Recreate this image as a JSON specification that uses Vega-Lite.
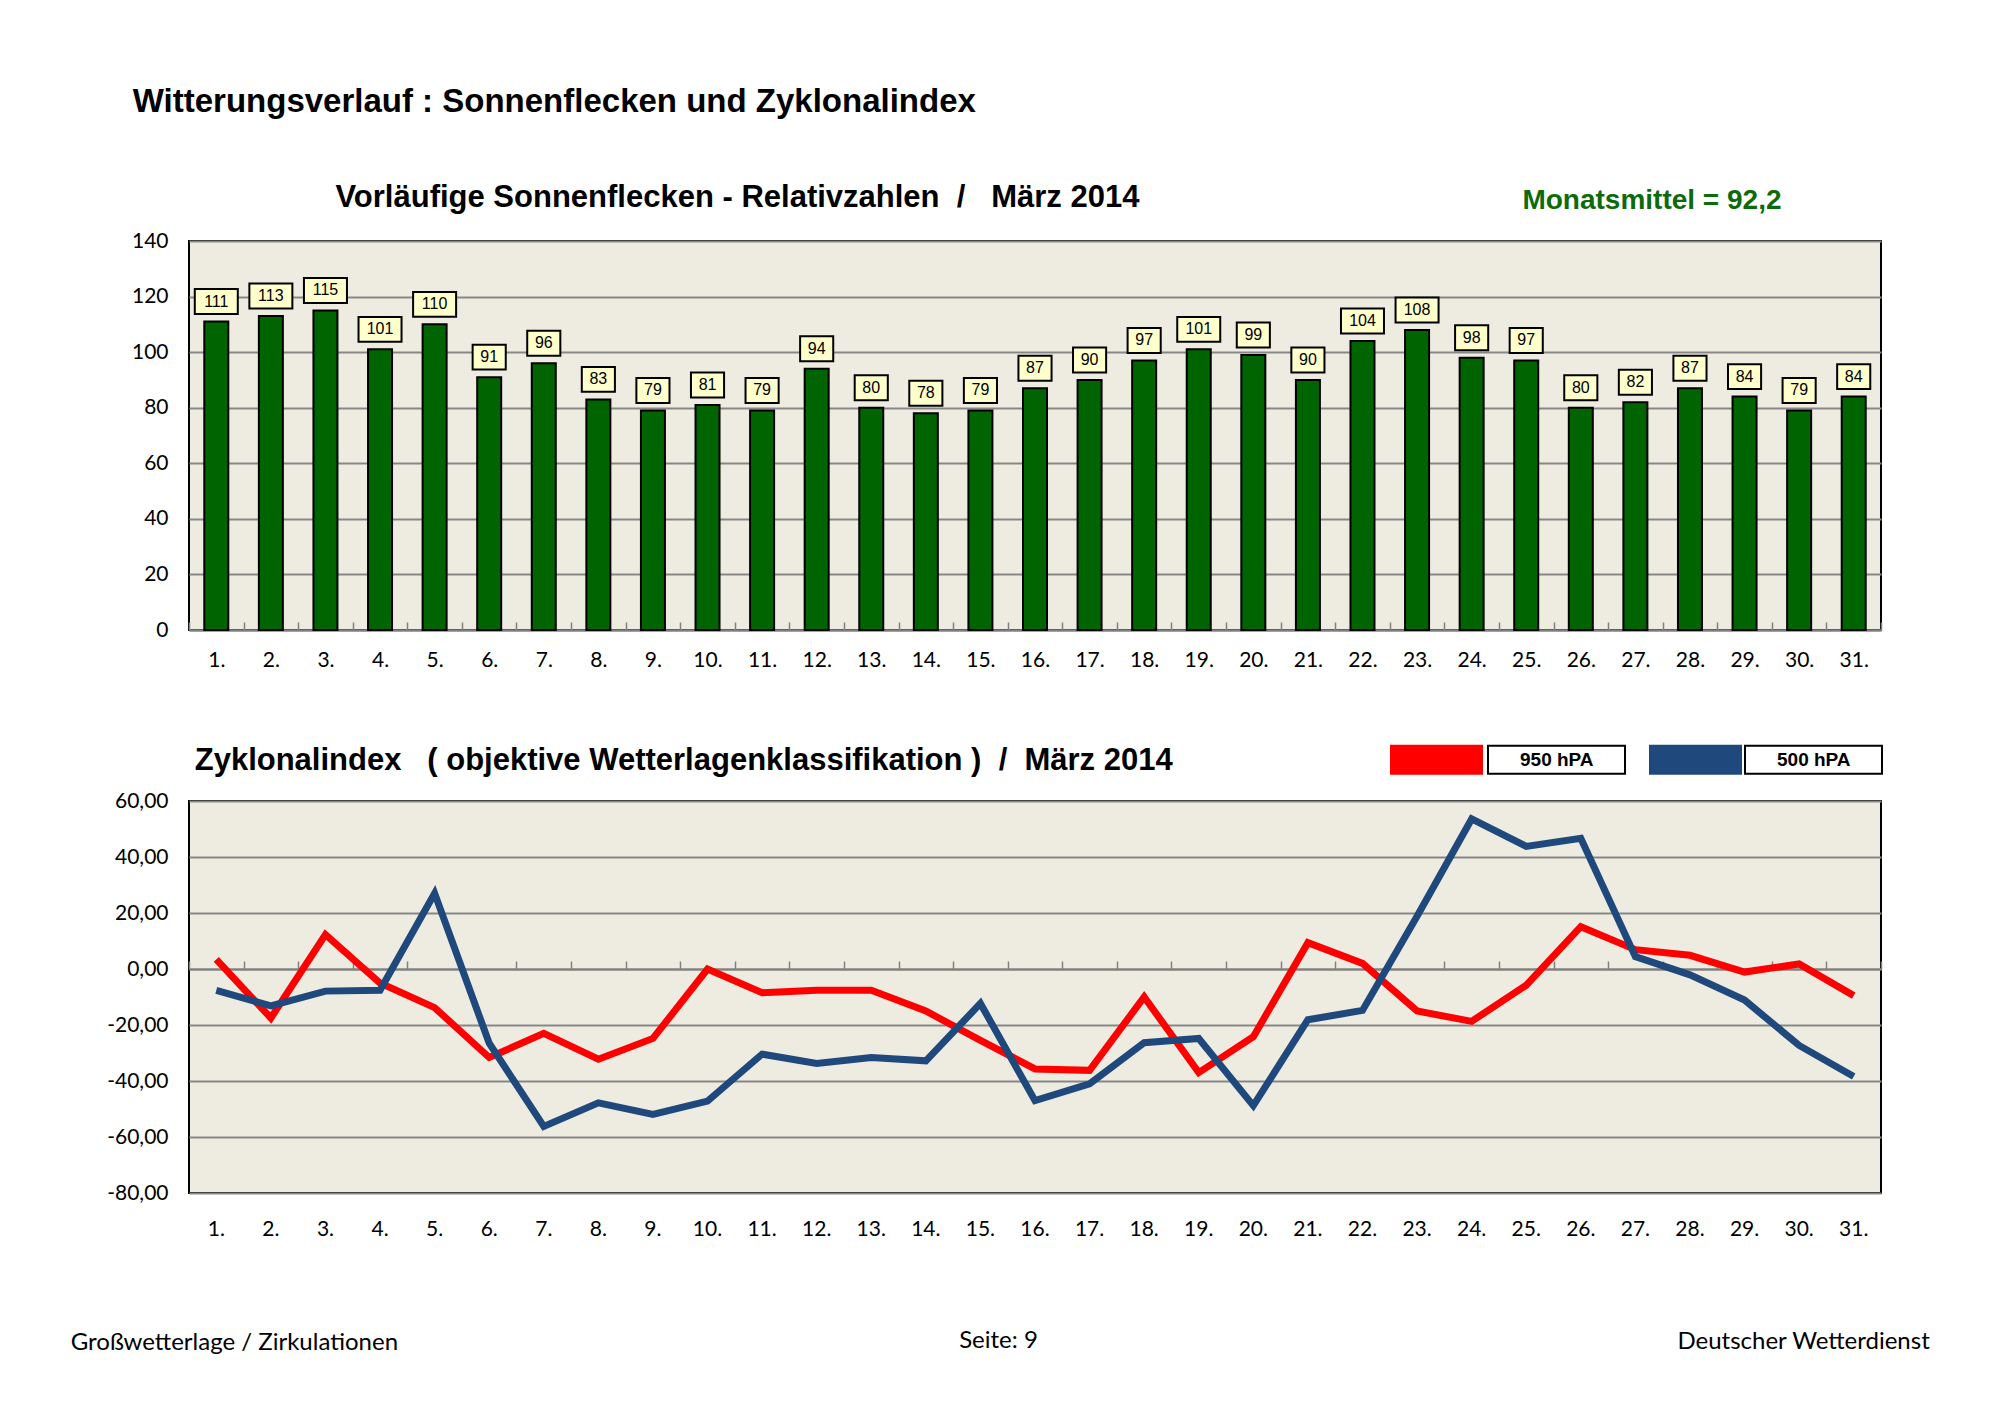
{
  "$schema": "https://vega.github.io/schema/vega-lite/v6.json",
  "background": "white",
  "padding": {"left": 70, "top": 86, "right": 10, "bottom": 10},
  "config": {
    "view": {"fill": "#EEECE1", "stroke": "black", "strokeWidth": 2},
    "font": "Liberation Sans",
    "locale": {"number": {"decimal": ",", "thousands": ".", "grouping": [3], "currency": ["", " €"], "minus": "-"}},
    "axis": {"labelFont": "Lato", "labelFontSize": 21, "labelColor": "black", "titleColor": "black"},
    "title": {"font": "Liberation Sans", "fontSize": 31, "fontWeight": "bold", "color": "black"}
  },
  "title": {
    "text": "Großwetterlage / Zirkulationen",
    "orient": "bottom", "anchor": "start", "dx": -35, "offset": -23,
    "font": "Lato", "fontSize": 24, "fontWeight": "normal"
  },
  "vconcat": [
    {
      "title": {
        "text": "Deutscher Wetterdienst",
        "orient": "bottom", "anchor": "end", "dx": 47, "offset": -23,
        "font": "Lato", "fontSize": 24, "fontWeight": "normal"
      },
      "vconcat": [
        {
          "title": {
            "text": "Witterungsverlauf : Sonnenflecken und Zyklonalindex",
            "anchor": "start", "dx": 27, "offset": 62, "fontSize": 33
          },
          "concat": [
            {
              "width": 1692,
              "height": 389,
              "title": {
                "text": "Vorläufige Sonnenflecken - Relativzahlen\u00a0\u00a0/\u00a0\u00a0\u00a0März 2014",
                "anchor": "start", "dx": 204, "offset": -28
              },
              "data": {
                "values": [
                  {"day": 1, "spots": 111}, {"day": 2, "spots": 113}, {"day": 3, "spots": 115},
                  {"day": 4, "spots": 101}, {"day": 5, "spots": 110}, {"day": 6, "spots": 91},
                  {"day": 7, "spots": 96}, {"day": 8, "spots": 83}, {"day": 9, "spots": 79},
                  {"day": 10, "spots": 81}, {"day": 11, "spots": 79}, {"day": 12, "spots": 94},
                  {"day": 13, "spots": 80}, {"day": 14, "spots": 78}, {"day": 15, "spots": 79},
                  {"day": 16, "spots": 87}, {"day": 17, "spots": 90}, {"day": 18, "spots": 97},
                  {"day": 19, "spots": 101}, {"day": 20, "spots": 99}, {"day": 21, "spots": 90},
                  {"day": 22, "spots": 104}, {"day": 23, "spots": 108}, {"day": 24, "spots": 98},
                  {"day": 25, "spots": 97}, {"day": 26, "spots": 80}, {"day": 27, "spots": 82},
                  {"day": 28, "spots": 87}, {"day": 29, "spots": 84}, {"day": 30, "spots": 79},
                  {"day": 31, "spots": 84}
                ]
              },
              "encoding": {
                "y": {
                  "field": "spots", "type": "quantitative",
                  "scale": {"domain": [0, 140], "nice": false},
                  "axis": {
                    "title": null, "values": [0, 20, 40, 60, 80, 100, 120, 140],
                    "grid": true, "gridColor": "#878787", "gridWidth": 2,
                    "domain": false, "ticks": false, "tickSize": 0, "labelPadding": 21
                  }
                }
              },
              "layer": [
                {
                  "mark": {"type": "bar", "size": 24, "fill": "#006400", "stroke": "black", "strokeWidth": 2},
                  "encoding": {
                    "x": {
                      "field": "day", "type": "ordinal",
                      "scale": {"paddingInner": 0, "paddingOuter": 0},
                      "axis": {
                        "orient": "bottom", "title": null, "labelAngle": 0,
                        "labelExpr": "datum.value == null ? '' : datum.value + '.'",
                        "tickBand": "extent", "tickSize": -8, "tickColor": "#808080", "tickWidth": 1.5,
                        "domainColor": "#808080", "domainWidth": 2, "labelPadding": 27
                      }
                    }
                  }
                },
                {
                  "mark": {
                    "type": "point", "filled": true, "fill": "#FFFFCC", "stroke": "black",
                    "strokeWidth": 2, "opacity": 1, "size": 1849, "yOffset": -20
                  },
                  "encoding": {
                    "x": {
                      "field": "day", "type": "ordinal",
                      "axis": {
                        "orient": "top", "labels": false, "ticks": false, "domain": false, "grid": false,
                        "title": "Monatsmittel = 92,2", "titleColor": "#0B6B0B",
                        "titleFont": "Liberation Sans", "titleFontSize": 28, "titleFontWeight": "bold",
                        "titleX": 1592, "titleY": -41, "titleAlign": "right", "titleBaseline": "middle"
                      }
                    },
                    "shape": {
                      "condition": {"test": "datum.spots >= 100", "value": "M-1,-0.58L1,-0.58L1,0.58L-1,0.58Z"},
                      "value": "M-0.77,-0.58L0.77,-0.58L0.77,0.58L-0.77,0.58Z"
                    }
                  }
                },
                {
                  "mark": {"type": "text", "font": "Liberation Sans", "fontSize": 16, "color": "black", "yOffset": -20, "baseline": "middle"},
                  "encoding": {
                    "x": {"field": "day", "type": "ordinal", "axis": null},
                    "text": {"field": "spots", "type": "quantitative"}
                  }
                }
              ]
            },
            {
              "width": 1692,
              "height": 392,
              "title": {
                "text": "Zyklonalindex\u00a0\u00a0\u00a0( objektive Wetterlagenklassifikation )\u00a0\u00a0/\u00a0\u00a0März 2014",
                "anchor": "start", "dx": 88, "offset": 13
              },
              "data": {
                "values": [
                  {"day": 1, "level": "950 hPA", "index": 3.4}, {"day": 2, "level": "950 hPA", "index": -17.5},
                  {"day": 3, "level": "950 hPA", "index": 12.3}, {"day": 4, "level": "950 hPA", "index": -5.0},
                  {"day": 5, "level": "950 hPA", "index": -13.8}, {"day": 6, "level": "950 hPA", "index": -31.6},
                  {"day": 7, "level": "950 hPA", "index": -23.0}, {"day": 8, "level": "950 hPA", "index": -32.2},
                  {"day": 9, "level": "950 hPA", "index": -24.8}, {"day": 10, "level": "950 hPA", "index": 0.0},
                  {"day": 11, "level": "950 hPA", "index": -8.5}, {"day": 12, "level": "950 hPA", "index": -7.6},
                  {"day": 13, "level": "950 hPA", "index": -7.6}, {"day": 14, "level": "950 hPA", "index": -15.0},
                  {"day": 15, "level": "950 hPA", "index": -25.5}, {"day": 16, "level": "950 hPA", "index": -35.7},
                  {"day": 17, "level": "950 hPA", "index": -36.2}, {"day": 18, "level": "950 hPA", "index": -10.0},
                  {"day": 19, "level": "950 hPA", "index": -37.0}, {"day": 20, "level": "950 hPA", "index": -24.2},
                  {"day": 21, "level": "950 hPA", "index": 9.4}, {"day": 22, "level": "950 hPA", "index": 2.0},
                  {"day": 23, "level": "950 hPA", "index": -15.0}, {"day": 24, "level": "950 hPA", "index": -18.7},
                  {"day": 25, "level": "950 hPA", "index": -5.8}, {"day": 26, "level": "950 hPA", "index": 15.1},
                  {"day": 27, "level": "950 hPA", "index": 6.9}, {"day": 28, "level": "950 hPA", "index": 4.9},
                  {"day": 29, "level": "950 hPA", "index": -1.1}, {"day": 30, "level": "950 hPA", "index": 1.8},
                  {"day": 31, "level": "950 hPA", "index": -9.5},
                  {"day": 1, "level": "500 hPA", "index": -7.6}, {"day": 2, "level": "500 hPA", "index": -13.2},
                  {"day": 3, "level": "500 hPA", "index": -7.9}, {"day": 4, "level": "500 hPA", "index": -7.6},
                  {"day": 5, "level": "500 hPA", "index": 27.0}, {"day": 6, "level": "500 hPA", "index": -26.5},
                  {"day": 7, "level": "500 hPA", "index": -56.2}, {"day": 8, "level": "500 hPA", "index": -47.8},
                  {"day": 9, "level": "500 hPA", "index": -51.9}, {"day": 10, "level": "500 hPA", "index": -47.2},
                  {"day": 11, "level": "500 hPA", "index": -30.4}, {"day": 12, "level": "500 hPA", "index": -33.7},
                  {"day": 13, "level": "500 hPA", "index": -31.6}, {"day": 14, "level": "500 hPA", "index": -32.8},
                  {"day": 15, "level": "500 hPA", "index": -12.3}, {"day": 16, "level": "500 hPA", "index": -47.0},
                  {"day": 17, "level": "500 hPA", "index": -41.0}, {"day": 18, "level": "500 hPA", "index": -26.3},
                  {"day": 19, "level": "500 hPA", "index": -24.8}, {"day": 20, "level": "500 hPA", "index": -48.8},
                  {"day": 21, "level": "500 hPA", "index": -18.1}, {"day": 22, "level": "500 hPA", "index": -14.8},
                  {"day": 23, "level": "500 hPA", "index": 18.8}, {"day": 24, "level": "500 hPA", "index": 53.6},
                  {"day": 25, "level": "500 hPA", "index": 43.8}, {"day": 26, "level": "500 hPA", "index": 46.7},
                  {"day": 27, "level": "500 hPA", "index": 4.4}, {"day": 28, "level": "500 hPA", "index": -2.1},
                  {"day": 29, "level": "500 hPA", "index": -11.1}, {"day": 30, "level": "500 hPA", "index": -27.3},
                  {"day": 31, "level": "500 hPA", "index": -38.4}
                ]
              },
              "encoding": {
                "y": {
                  "field": "index", "type": "quantitative",
                  "scale": {"domain": [-80, 60], "nice": false},
                  "axis": {
                    "title": null, "values": [-80, -60, -40, -20, 0, 20, 40, 60], "format": ".2f",
                    "grid": true, "gridColor": "#878787", "gridWidth": 2,
                    "domain": false, "ticks": false, "tickSize": 0, "labelPadding": 21
                  }
                },
                "color": {
                  "field": "level", "type": "nominal",
                  "scale": {"domain": ["950 hPA", "500 hPA"], "range": ["#FF0000", "#1F497D"]},
                  "legend": {
                    "orient": "none", "legendX": 1201, "legendY": 472, "direction": "horizontal", "columns": 2,
                    "title": null, "padding": 0, "labelExpr": "''", "labelOffset": 0, "columnPadding": 160,
                    "symbolType": "M-1,-0.308L1,-0.308L1,0.308L-1,0.308Z", "symbolSize": 8281,
                    "encode": {
                      "symbols": {
                        "update": {
                          "fill": {"scale": "color", "field": "value"},
                          "stroke": {"value": "black"}, "strokeWidth": {"value": 2}, "opacity": {"value": 1}
                        }
                      }
                    }
                  }
                },
                "opacity": {
                  "field": "level", "type": "nominal",
                  "scale": {"domain": ["500 hPA", "950 hPA"], "range": [1, 1]},
                  "legend": {
                    "orient": "none", "legendX": 1298, "legendY": 449, "direction": "horizontal", "columns": 2,
                    "values": ["950 hPA", "500 hPA"],
                    "title": null, "padding": 0, "labelOffset": -106, "columnPadding": 112,
                    "labelFont": "Liberation Sans", "labelFontSize": 19, "labelFontWeight": "bold", "labelColor": "black",
                    "symbolType": "M-1,-0.204L1,-0.204L1,0.204L-1,0.204Z", "symbolSize": 18769,
                    "encode": {
                      "symbols": {
                        "update": {
                          "fill": {"value": "white"}, "stroke": {"value": "black"},
                          "strokeWidth": {"value": 2}, "opacity": {"value": 1}
                        }
                      }
                    }
                  }
                }
              },
              "layer": [
                {
                  "transform": [{"filter": "datum.level === '950 hPA'"}],
                  "mark": {"type": "line", "strokeWidth": 7, "strokeJoin": "miter"},
                  "encoding": {
                    "x": {
                      "field": "day", "type": "ordinal", "bandPosition": 0.5,
                      "scale": {"type": "band", "paddingInner": 0, "paddingOuter": 0},
                      "axis": {
                        "orient": "bottom", "labelAngle": 0, "labelExpr": "datum.value == null ? '' : datum.value + '.'",
                        "ticks": false, "tickSize": 0, "domain": false, "labelPadding": 25,
                        "title": "Seite: 9", "titleFont": "Lato", "titleFontSize": 24, "titleFontWeight": "normal",
                        "titleX": 809, "titleY": 147, "titleAlign": "center", "titleBaseline": "middle"
                      }
                    }
                  }
                },
                {
                  "transform": [{"filter": "datum.level === '500 hPA'"}],
                  "mark": {"type": "line", "strokeWidth": 7, "strokeJoin": "miter"},
                  "encoding": {
                    "x": {
                      "field": "day", "type": "ordinal", "bandPosition": 0.5,
                      "axis": {
                        "orient": "top", "offset": -168, "labels": false, "title": null, "grid": false,
                        "ticks": true, "tickBand": "extent", "tickSize": 8, "tickColor": "#808080", "tickWidth": 1.5,
                        "domain": true, "domainColor": "#808080", "domainWidth": 2
                      }
                    }
                  }
                }
              ]
            }
          ],
          "columns": 1,
          "align": "none",
          "spacing": 73
        }
      ]
    }
  ]
}
